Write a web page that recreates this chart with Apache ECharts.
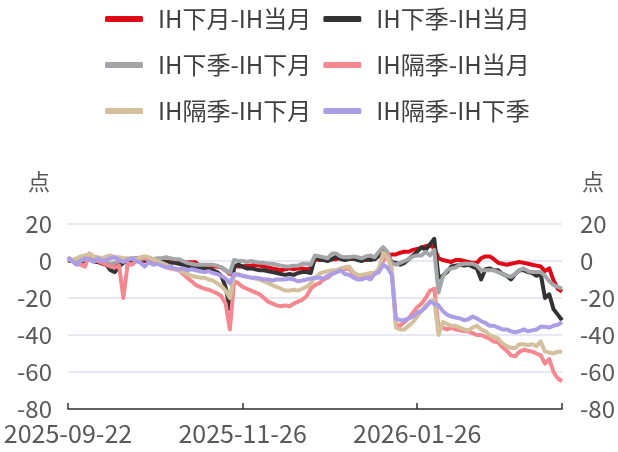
<!DOCTYPE html>
<html><head><meta charset="utf-8">
<script src="https://cdn.jsdelivr.net/npm/echarts@6/dist/echarts.min.js"></script>
<style>html,body{margin:0;padding:0;background:#fff}#c{width:618px;height:452px}</style>
</head><body><div id="c"></div>
<script>
const dates = [
'2025-09-22','2025-09-23','2025-09-24','2025-09-25','2025-09-26','2025-09-29','2025-09-30',
'2025-10-09','2025-10-10','2025-10-13','2025-10-14','2025-10-15','2025-10-16','2025-10-17','2025-10-20','2025-10-21','2025-10-22','2025-10-23','2025-10-24','2025-10-27','2025-10-28','2025-10-29','2025-10-30','2025-10-31',
'2025-11-03','2025-11-04','2025-11-05','2025-11-06','2025-11-07','2025-11-10','2025-11-11','2025-11-12','2025-11-13','2025-11-14','2025-11-17','2025-11-18','2025-11-19','2025-11-20','2025-11-21','2025-11-24','2025-11-25','2025-11-26','2025-11-27','2025-11-28',
'2025-12-01','2025-12-02','2025-12-03','2025-12-04','2025-12-05','2025-12-08','2025-12-09','2025-12-10','2025-12-11','2025-12-12','2025-12-15','2025-12-16','2025-12-17','2025-12-18','2025-12-19','2025-12-22','2025-12-23','2025-12-24','2025-12-25','2025-12-26','2025-12-29','2025-12-30','2025-12-31',
'2026-01-05','2026-01-06','2026-01-07','2026-01-08','2026-01-09','2026-01-12','2026-01-13','2026-01-14','2026-01-15','2026-01-16','2026-01-19','2026-01-20','2026-01-21','2026-01-22','2026-01-23','2026-01-26','2026-01-27','2026-01-28','2026-01-29','2026-01-30',
'2026-02-02','2026-02-03','2026-02-04','2026-02-05','2026-02-06','2026-02-09','2026-02-10','2026-02-11','2026-02-12','2026-02-13','2026-02-24','2026-02-25','2026-02-26','2026-02-27',
'2026-03-02','2026-03-03','2026-03-04','2026-03-05','2026-03-06','2026-03-09','2026-03-10','2026-03-11','2026-03-12','2026-03-13','2026-03-16','2026-03-17','2026-03-18','2026-03-19','2026-03-20','2026-03-23'
];
const seriesNames = ['IH下月-IH当月','IH下季-IH当月','IH下季-IH下月','IH隔季-IH当月','IH隔季-IH下月','IH隔季-IH下季'];
const colors = ['#e00a16','#333333','#a3a5a8','#f4878f','#d4c09c','#ab9de6'];

const nextMinusCur = [0,0.5,-0.5,-1,0.5,1,0,-0.5,-1.5,-2,-2.5,-3,-1.5,-0.5,0,0.5,0,0.5,0,0,
 0,0.5,0,-0.5,0,-0.5,-0.5,-0.5,-0.7,-0.7,-0.7,-3,-3,-3,-3,-3,-3.5,-5,-7,
 -3,-3,-3,-2.5,-2.5,-2,-2.5,-3,-3.5,-4,-4.5,-5,-4.5,-4,-4.5,-4,-4,-4.5,-4,1,
 0.5,0.5,0.5,1,1,2,1.5,2,1,1.5,1,0.5,1.5,1,3,3.5,3,3.5,
 3.5,4.5,5,5,6,6.5,7,8,8.5,7,
 1.5,0.5,0,-0.5,0.5,0.5,0,-0.5,-1,-1,1.5,2.5,2.5,1,-1,-1.5,-2,-1.5,-1,-0.5,-1,-1.5,-2,-2.5,-3,-5.5,-4,-10.5,-15,-16.5];
const qtrMinusCur = [0.5,0,-1,-0.5,0.5,1,0,-0.5,-1,-2,-5,-6,-3,-1,0,1,1.5,1,0.5,0.5,
 0,0.5,0,-0.5,-1,-1,-1.5,-2,-2.5,-3.5,-3,-3.5,-4,-4.5,-5,-6,-8,-14,-26,
 -3,-2,-3,-4,-4,-4.5,-5,-5,-5.5,-6,-6.5,-7,-7.5,-7,-7.5,-6.5,-6,-6,-6.5,2,
 1,0.5,0,1,2.5,1,0.5,1,1.5,0.5,0,1,0.5,1,3,5,4,-0.5,
 -1,-2,-1,1,3,5,7.5,6,9,12,
 -9,-8,-6,-3,-2.5,-2,-2.5,-2,-3,-4,-10,-4.5,-4,-5,-5,-7,-8,-10,-7,-5,-5,-6,-6.5,-8,-7,-20,-18,-26,-29,-32];
const qtrMinusNext = [1,0,-0.5,0.5,1,1.5,0.5,0,-0.5,-1,-1.5,-1,0,0.5,1,1.5,1.5,1,1.5,1.5,
 1,1.5,1.5,2,1.5,1,1,0,-1,-1.5,-2,-2,-2,-2,-2,-2.5,-3.5,-5,-6.5,
 0.5,0,0,-0.5,0,-0.5,-1,-1,-1.5,-1.5,-2,-2.5,-3,-3,-2.5,-2.5,-1.5,-1.5,-2,3,
 2.5,2,1.5,4,4,2.5,2,2,2.5,2,1.5,2.5,3,2,5,7.5,5,-1,
 -2,-1,0,1,2.5,3,3,5,3,6,
 -17,-8.5,-5,-4,-3.5,-2,-1.5,-1.5,-1.5,-2.5,-5,-5,-5,-5,-6,-7,-8,-8.5,-7,-5,-4,-5.5,-6,-6,-6,-8,-11,-13,-14,-15];
const farMinusCur = [2,0,-1.5,-2,-3,4,2.5,0,-1,-2,-3,-3.5,-2.5,-20,-1.5,-2,0,1.5,1.5,0.5,
 0,-1,-2,-3,-4,-4.5,-5,-7,-9,-11,-13,-14,-15,-15.5,-16.5,-17.5,-19,-23,-37,
 -11,-12,-14,-15,-16,-17,-18,-20,-22,-23,-24,-24.5,-24,-24.5,-23,-22,-21,-19,-15,-13,
 -12,-10,-9,-7,-6,-5,-4.5,-4,-7,-8,-8.5,-8,-7.5,-7,-5.5,0,3,-4,
 -34,-35,-33,-31,-28,-25,-23,-20,-16,-15,
 -36,-36,-37,-36,-37,-37.5,-38,-38,-39,-40,-40,-41,-42,-43.5,-44,-46.5,-48.5,-51,-51.5,-49,-48,-48.5,-49,-50,-51,-55.5,-53,-60,-63.5,-65];
const farMinusNext = [1,0.5,1.5,2.5,3,3.5,2.5,2,1.5,2.5,3,2,2,1.5,1.5,1.5,1,2,2.5,2,
 1,0,-1,-2,-3,-4,-5,-6,-7,-8,-8.5,-9,-9,-10,-10.5,-12,-13.5,-16,-20,
 -8,-7,-8,-8.5,-9,-9.5,-10,-11,-12,-13,-14,-15,-16,-16,-15.5,-16,-15,-14,-12,-9,
 -7,-6,-5.5,-5,-5,-4,-3.5,-3,-6,-7.5,-7.5,-7,-6.5,-6.5,-4,4.5,2,-4,
 -36,-37,-37,-35,-33,-30,-27,-24,-22,-21,
 -40,-33,-34,-35,-35,-36,-37,-37.5,-36,-35,-37,-38,-40,-41,-42,-44.5,-46,-47,-47,-45,-45,-45.5,-45,-46,-43.5,-49,-49.5,-50,-49,-49];
const farMinusQtr = [2,0,-2,0,1.5,1,-0.5,1.5,0,0.5,1.5,2,0.5,-0.5,0.5,1.5,0,-1,-3,-0.5,
 -2,-1.5,-2.5,-3.5,-3,-4,-4.5,-4,-5,-4.5,-5,-5.5,-6,-5.5,-6.5,-7,-8,-9.5,-12,
 -7,-7.5,-8,-8.5,-9,-9,-9.5,-10,-10,-10.5,-10,-10,-10,-9.5,-10,-11,-10.5,-10,-9.5,-9,
 -9,-9.5,-8,-7,-6,-5,-7,-7.5,-9,-10,-10,-9,-10,-7,-6,-2,-3.5,-7.5,
 -31,-32,-32,-31,-30,-28,-27,-25,-22,-23,
 -24,-27,-29,-30,-30.5,-31,-32,-31.5,-30,-31,-32.5,-33.5,-35,-35,-36,-37,-37,-38,-38.5,-38,-37,-38,-37.5,-37,-35.5,-35.5,-36,-35,-34.5,-33];
const values = [nextMinusCur, qtrMinusCur, qtrMinusNext, farMinusCur, farMinusNext, farMinusQtr];
const yMin = -80, yMax = 20, yStep = 20;

const font = '"Noto Sans CJK SC", "Noto Sans", sans-serif';
const labelColor = '#595959';
const lastIdx = dates.length - 1;

function yAxisCfg(pos) {
  return {
    type: 'value', position: pos, min: yMin, max: yMax, interval: yStep,
    name: '点', nameLocation: 'end', nameGap: 31,
    nameTextStyle: pos === 'left'
      ? {fontSize: 22, color: labelColor, fontFamily: font, align: 'right', padding: [0, 18, 0, 0]}
      : {fontSize: 22, color: labelColor, fontFamily: font, align: 'left', padding: [0, 0, 0, 20]},
    axisLine: {show: false}, axisTick: {show: false},
    axisLabel: {fontSize: 24, color: labelColor, fontFamily: font, margin: pos === 'left' ? 16 : 18},
    splitLine: {show: pos === 'left', lineStyle: {color: '#dfe1ec', width: 1.5}}
  };
}

const chart = echarts.init(document.getElementById('c'), null, {renderer: 'canvas'});
chart.setOption({
  animation: false,
  backgroundColor: '#ffffff',
  color: colors,
  legend: {
    data: seriesNames, left: 100, top: -3, width: 470,
    itemWidth: 38, itemHeight: 6, itemGap: 12, icon: 'roundRect',
    textStyle: {fontSize: 24, color: '#404040', fontFamily: font, padding: [0, 0, 0, 10], lineHeight: 34}
  },
  grid: {left: 68, right: 55, top: 224, bottom: 43, containLabel: false},
  xAxis: {
    type: 'category', data: dates, boundaryGap: false,
    axisLine: {onZero: false, lineStyle: {color: '#333', width: 1.5}},
    axisTick: {inside: true, length: 6, lineStyle: {color: '#333', width: 1.5},
      interval: function (i) { return i % 41 === 0 || i === lastIdx; }},
    axisLabel: {interval: 40, fontSize: 25, color: labelColor, fontFamily: font, margin: 12},
    splitLine: {show: false}
  },
  yAxis: [yAxisCfg('left'), yAxisCfg('right')],
  series: seriesNames.map(function (n, k) {
    return {
      name: n, type: 'line', data: values[k], yAxisIndex: 0,
      symbol: 'none', smooth: false,
      lineStyle: {width: 4, color: colors[k], join: 'round'}, itemStyle: {color: colors[k]}
    };
  })
});
</script></body></html>
